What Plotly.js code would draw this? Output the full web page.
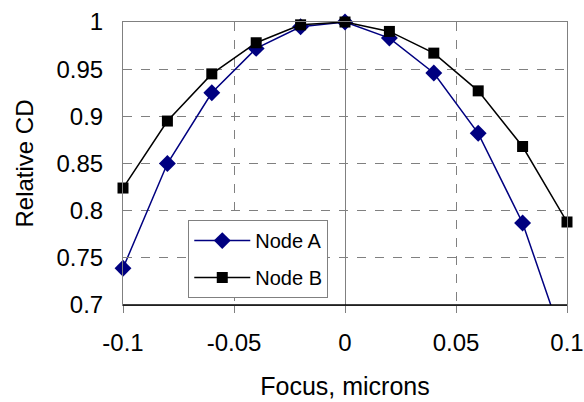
<!DOCTYPE html>
<html>
<head>
<meta charset="utf-8">
<script src="https://cdn.plot.ly/plotly-3.0.1.min.js"></script>
<style>html,body{margin:0;padding:0;background:#fff;}#chart{width:584px;height:402px;}</style>
</head>
<body>
<div id="chart"></div>
<script>
const focus = [-0.1, -0.08, -0.06, -0.04, -0.02, 0, 0.02, 0.04, 0.06, 0.08, 0.1];
const nodeA = [0.739, 0.850, 0.925, 0.972, 0.995, 1.000, 0.983, 0.946, 0.882, 0.787, 0.650];
const nodeB = [0.824, 0.895, 0.945, 0.978, 0.997, 1.000, 0.990, 0.967, 0.927, 0.868, 0.788];
const xTicks = [-0.1, -0.05, 0, 0.05, 0.1];
const xTickText = ['-0.1', '-0.05', '0', '0.05', '0.1'];
const yTicks = [0.7, 0.75, 0.8, 0.85, 0.9, 0.95, 1];
const yTickText = ['0.7', '0.75', '0.8', '0.85', '0.9', '0.95', '1'];

const font = 'Liberation Sans, Arial, sans-serif';
const traces = [
  {x: focus, y: nodeA, name: 'Node A', mode: 'lines+markers', legendgroup: 'a',
   line: {color: '#000080', width: 1.5},
   marker: {symbol: 'diamond', size: 13, color: '#000080'}, cliponaxis: false},
  {x: focus, y: nodeB, name: 'Node B', mode: 'lines+markers', legendgroup: 'b',
   line: {color: '#000000', width: 1.5},
   marker: {symbol: 'square', size: 11, color: '#000000'}, cliponaxis: false}
];
const layout = {
  width: 584, height: 402,
  margin: {l: 123, r: 17, t: 22, b: 97},
  paper_bgcolor: '#fff', plot_bgcolor: '#fff',
  font: {family: font, size: 24, color: '#000'},
  showlegend: true,
  legend: {x: 0.147, y: 0.30, xanchor: 'left', yanchor: 'top',
    bgcolor: '#fff', bordercolor: '#808080', borderwidth: 1,
    font: {family: font, size: 20, color: '#000'},
    itemwidth: 56,
    traceorder: 'grouped', tracegroupgap: 8},
  xaxis: {range: [-0.1, 0.1], tickvals: xTicks, ticktext: xTickText,
    showgrid: true, gridcolor: '#808080', griddash: 'dash', gridwidth: 1,
    zeroline: true, zerolinecolor: '#808080', zerolinewidth: 1,
    showline: true, linecolor: '#808080', linewidth: 1, mirror: true,
    ticks: 'outside', ticklen: 7, tickcolor: '#808080', ticklabelstandoff: 9,
    tickfont: {family: font, size: 24, color: '#000'},
    title: {text: 'Focus, microns', font: {family: font, size: 25, color: '#000'}, standoff: 22},
    automargin: false},
  yaxis: {range: [0.7, 1], tickvals: yTicks, ticktext: yTickText,
    showgrid: true, gridcolor: '#808080', griddash: 'dash', gridwidth: 1,
    zeroline: false,
    showline: true, linecolor: '#808080', linewidth: 1, mirror: true,
    ticks: 'inside', ticklen: 6, tickcolor: '#808080', ticklabelstandoff: 14,
    tickfont: {family: font, size: 24, color: '#000'},
    title: {text: 'Relative CD', font: {family: font, size: 24, color: '#000'}, standoff: 16},
    automargin: false},
  shapes: [{type: 'line', xref: 'paper', yref: 'paper', x0: 0, x1: 1, y0: 0, y1: 0,
    line: {color: '#000', width: 1.5}}]
};
Plotly.newPlot('chart', traces, layout, {displayModeBar: false, staticPlot: true});
</script>
</body>
</html>
